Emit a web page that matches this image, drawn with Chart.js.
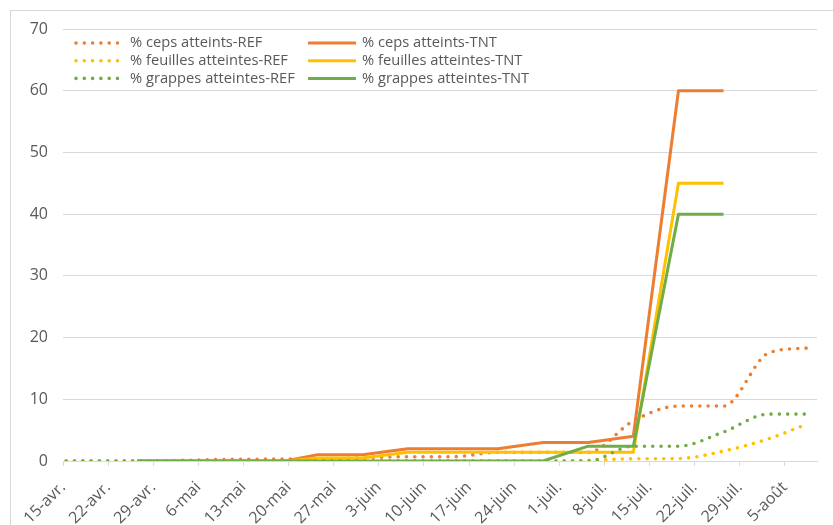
<!DOCTYPE html>
<html>
<head>
<meta charset="utf-8">
<script src="https://cdn.jsdelivr.net/npm/chart.js@4"></script>
<style>
  html, body { margin: 0; padding: 0; background: #fff; }
  #wrap { position: relative; width: 833px; height: 525px; overflow: hidden; }
  #frame { position: absolute; left: 10px; top: 10px; width: 900px; height: 600px;
           border-left: 1px solid #d9d9d9; border-top: 1px solid #d9d9d9; }
  #chart { position: absolute; left: 0; top: 0; }
</style>
</head>
<body>
<div id="wrap">
  <div id="frame"></div>
  <canvas id="chart" width="833" height="525"></canvas>
</div>
<script>
// dates of the observations (month-day)
const dates = ['04-15','04-26','05-03','05-10','05-19','05-24','05-31','06-07','06-14',
               '06-21','06-28','07-05','07-12','07-19','07-26','08-02','08-08'];

// series
const cepsREF     = [0, 0, 0.1, 0.25, 0.3, 0.3, 0.5, 0.7, 0.7, 1.4, 1.4, 1.4, 6.5, 8.9, 8.9, 17.5, 18.3];
const cepsTNT     = [null, 0, 0, 0, 0, 1, 1, 2, 2, 2, 3, 3, 4, 60, 60, null, null];
const feuillesREF = [0, 0, 0, 0, 0, 0, 0, 0, 0, 0, 0, 0.1, 0.35, 0.4, 1.6, 3.6, 6.0];
const feuillesTNT = [null, 0, 0, 0, 0, 0.5, 0.5, 1.4, 1.4, 1.4, 1.4, 1.4, 1.4, 45, 45, null, null];
const grappesREF  = [0, 0, 0, 0, 0, 0, 0, 0, 0, 0, 0, 0, 2.4, 2.4, 4.7, 7.6, 7.6];
const grappesTNT  = [null, 0, 0, 0, 0, 0, 0, 0, 0, 0, 0, 2.4, 2.4, 40, 40, null, null];

// axis labels, one every 7 days from the 15th of April
const tickLabels = ['15-avr.','22-avr.','29-avr.','6-mai','13-mai','20-mai','27-mai','3-juin',
                    '10-juin','17-juin','24-juin','1-juil.','8-juil.','15-juil.','22-juil.',
                    '29-juil.','5-août'];
const yTicks = [0, 10, 20, 30, 40, 50, 60, 70];

const ORANGE = '#ED7D31', YELLOW = '#FFC000', GREEN = '#70AD47';
const DOTS = [0, 8.3];

// day number counted from the first date (axis is in days)
function dayOf(md) {
    var p = md.split('-');
    var t = Date.UTC(2021, parseInt(p[0]) - 1, parseInt(p[1]));
    return (t - Date.UTC(2021, 3, 15)) / 86400000;
}
const lastDay = dayOf('08-10');

// points sit in the middle of their day like on an Excel date axis
function toPoints(values) {
    return values.map((v, i) => ({ x: dayOf(dates[i]) + 0.5, y: v }));
}

function makeSet(label, values, color, dotted, i) {
    return {
        label: label,
        data: toPoints(values),
        borderColor: color,
        backgroundColor: color,
        borderWidth: dotted ? 3.6 : 3,
        borderDash: dotted ? DOTS : [],
        borderCapStyle: dotted ? 'round' : 'butt',
        borderJoinStyle: 'round',
        cubicInterpolationMode: dotted ? 'monotone' : 'default',
        tension: 0,
        pointRadius: 0,
        spanGaps: false,
        fill: false,
        order: 5 - i,
        dotted: dotted
    };
}

const datasets = [
    makeSet('% ceps atteints-REF', cepsREF, ORANGE, true, 0),
    makeSet('% ceps atteints-TNT', cepsTNT, ORANGE, false, 1),
    makeSet('% feuilles atteintes-REF', feuillesREF, YELLOW, true, 2),
    makeSet('% feuilles atteintes-TNT', feuillesTNT, YELLOW, false, 3),
    makeSet('% grappes atteintes-REF', grappesREF, GREEN, true, 4),
    makeSet('% grappes atteintes-TNT', grappesTNT, GREEN, false, 5)
];

// legend in two columns, drawn inside the plot like the original
const legendPlugin = {
    id: 'twoColLegend',
    afterDraw(chart) {
        const ctx = chart.ctx;
        ctx.save();
        ctx.font = '14.7px "Open Sans"';
        ctx.textBaseline = 'middle';
        chart.data.datasets.forEach((ds, i) => {
            const col = i % 2, row = Math.floor(i / 2);
            const y = 43 + row * 17.7;
            const x0 = col == 0 ? 76 : 308;
            const x1 = col == 0 ? 124 : 356;
            ctx.strokeStyle = ds.borderColor;
            ctx.lineWidth = ds.borderWidth;
            ctx.setLineDash(ds.dotted ? DOTS : []);
            ctx.lineCap = ds.dotted ? 'round' : 'butt';
            ctx.beginPath();
            ctx.moveTo(x0, y);
            ctx.lineTo(x1, y);
            ctx.stroke();
            ctx.setLineDash([]);
            ctx.fillStyle = '#595959';
            ctx.fillText(ds.label, col == 0 ? 130 : 362, y);
        });
        ctx.restore();
    }
};

const chart = new Chart(document.getElementById('chart'), {
    type: 'line',
    data: { datasets: datasets },
    plugins: [legendPlugin],
    options: {
        responsive: false,
        animation: false,
        layout: { padding: { left: 0, top: 29, right: 16, bottom: 0 } },
        plugins: { legend: { display: false }, tooltip: { enabled: false } },
        scales: {
            x: {
                type: 'linear',
                min: 0,
                max: lastDay,
                afterBuildTicks: (axis) => {
                    axis.ticks = tickLabels.map((t, i) => ({ value: i * 7 }));
                },
                afterFit: (scale) => { scale.height = 64; },
                grid: { drawOnChartArea: false, drawTicks: true, tickLength: 5, color: '#d9d9d9' },
                border: { display: true, color: '#d9d9d9', width: 1 },
                ticks: {
                    autoSkip: false,
                    minRotation: 45,
                    maxRotation: 45,
                    padding: 12,
                    color: '#595959',
                    font: { family: 'Open Sans', size: 16 },
                    callback: (v) => tickLabels[Math.round(v / 7)]
                }
            },
            y: {
                min: 0,
                max: 70,
                afterBuildTicks: (axis) => { axis.ticks = yTicks.map(v => ({ value: v })); },
                afterFit: (scale) => { scale.width = 63; },
                grid: { color: '#d9d9d9', drawTicks: false },
                border: { display: false },
                ticks: {
                    padding: 15,
                    color: '#595959',
                    font: { family: 'Open Sans', size: 16 }
                }
            }
        }
    }
});
</script>
</body>
</html>
